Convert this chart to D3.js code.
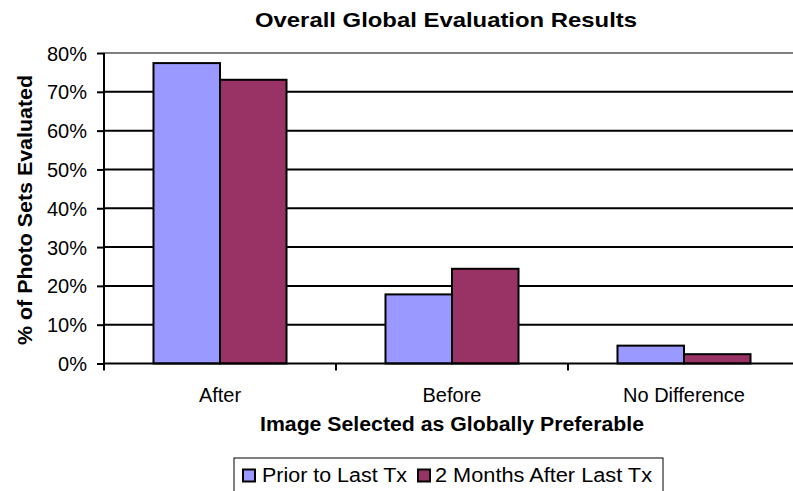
<!DOCTYPE html>
<html><head><meta charset="utf-8">
<script src="https://cdn.jsdelivr.net/npm/d3@7"></script>
<style>body{margin:0;background:#fff}svg{display:block}text{font-family:"Liberation Sans",Arial,sans-serif}</style>
</head><body>
<svg id="c" width="793" height="491"></svg>
<script>
const categories = ["After", "Before", "No Difference"];
const seriesNames = ["Prior to Last Tx", "2 Months After Last Tx"];
const priorValues = [0.774, 0.178, 0.046];
const afterValues = [0.731, 0.244, 0.024];
const yTicks = [0, 0.1, 0.2, 0.3, 0.4, 0.5, 0.6, 0.7, 0.8];
const colors = ["#9999FF", "#993366"];

const svg = d3.select("#c");
const pLeft = 104, pRight = 800, pTop = 53, pBottom = 363.5;

const x = d3.scaleBand().domain(categories).range([pLeft, pRight]).paddingInner(0).paddingOuter(0);
const inner = d3.scaleBand().domain(seriesNames).range([0, x.bandwidth()]).paddingInner(0).paddingOuter(0.744);
const y = d3.scaleLinear().domain([0, 0.8]).range([pBottom, pTop]);

// gridlines
svg.append("g").selectAll("line").data(yTicks.filter(d => d > 0 && d < 0.8)).join("line")
  .attr("x1", pLeft).attr("x2", pRight).attr("y1", d => y(d)).attr("y2", d => y(d))
  .attr("stroke", "#000").attr("stroke-width", 2);
// top border
svg.append("line").attr("x1", pLeft).attr("x2", pRight).attr("y1", y(0.8)).attr("y2", y(0.8))
  .attr("stroke", "#808080").attr("stroke-width", 2);

// bars
const data = categories.map((c, i) => ({c, vals: [priorValues[i], afterValues[i]]}));
const g = svg.append("g");
data.forEach(d => {
  d.vals.forEach((v, j) => {
    g.append("rect")
      .attr("x", x(d.c) + inner(seriesNames[j]))
      .attr("y", y(v))
      .attr("width", inner.bandwidth())
      .attr("height", y(0) - y(v))
      .attr("fill", colors[j]).attr("stroke", "#000").attr("stroke-width", 2);
  });
});

// y axis
const yAxis = d3.axisLeft(y).tickValues(yTicks).tickFormat(d3.format(".0%")).tickSize(7).tickPadding(10);
const ya = svg.append("g").attr("transform", `translate(${pLeft},0)`).call(yAxis);
ya.select(".domain").attr("stroke", "#000").attr("stroke-width", 2).attr("d", `M0,${pTop}V${pBottom}`);
ya.selectAll(".tick line").attr("stroke", "#000").attr("stroke-width", 2);
ya.selectAll(".tick text").attr("font-size", 20).attr("fill", "#000")
  .attr("font-family", "Liberation Sans, Arial, sans-serif").attr("x", -17).attr("dy", "0.35em");

// x axis
const xa = svg.append("g").attr("transform", `translate(0,${pBottom})`);
xa.append("line").attr("x1", pLeft).attr("x2", pRight).attr("stroke", "#000").attr("stroke-width", 2);
const bounds = categories.map(c => x(c)).concat([x(categories[categories.length-1]) + x.bandwidth()]);
xa.selectAll("line.t").data(bounds).join("line").attr("class", "t")
  .attr("x1", d => d).attr("x2", d => d).attr("y1", 0).attr("y2", 7)
  .attr("stroke", "#000").attr("stroke-width", 2);
xa.selectAll("text").data(categories).join("text")
  .attr("x", d => x(d) + x.bandwidth()/2).attr("y", 38)
  .attr("text-anchor", "middle").attr("font-size", 20).attr("fill", "#000").text(d => d);

// titles
svg.append("text").attr("x", 446).attr("y", 27).attr("text-anchor", "middle")
  .attr("font-size", 21).attr("font-weight", "bold")
  .attr("textLength", 382).attr("lengthAdjust", "spacingAndGlyphs")
  .text("Overall Global Evaluation Results");
svg.append("text").attr("x", 452).attr("y", 431).attr("text-anchor", "middle")
  .attr("font-size", 20).attr("font-weight", "bold")
  .attr("textLength", 384).attr("lengthAdjust", "spacingAndGlyphs")
  .text("Image Selected as Globally Preferable");
svg.append("text").attr("transform", "translate(32,210) rotate(-90)").attr("text-anchor", "middle")
  .attr("font-size", 20).attr("font-weight", "bold")
  .attr("textLength", 270).attr("lengthAdjust", "spacingAndGlyphs")
  .text("% of Photo Sets Evaluated");

// legend
const lg = svg.append("g");
lg.append("rect").attr("x", 234).attr("y", 458).attr("width", 429).attr("height", 40)
  .attr("fill", "#fff").attr("stroke", "#000").attr("stroke-width", 1);
const legX = [243, 418];
const legW = [145, 217];
seriesNames.forEach((s, i) => {
  lg.append("rect").attr("x", legX[i]).attr("y", 469.5).attr("width", 12).attr("height", 12)
    .attr("fill", colors[i]).attr("stroke", "#000").attr("stroke-width", 2);
  lg.append("text").attr("x", legX[i] + (i === 0 ? 19 : 17)).attr("y", 482).attr("font-size", 20).attr("fill", "#000")
    .attr("textLength", legW[i]).attr("lengthAdjust", "spacingAndGlyphs").text(s);
});
</script>
</body></html>
